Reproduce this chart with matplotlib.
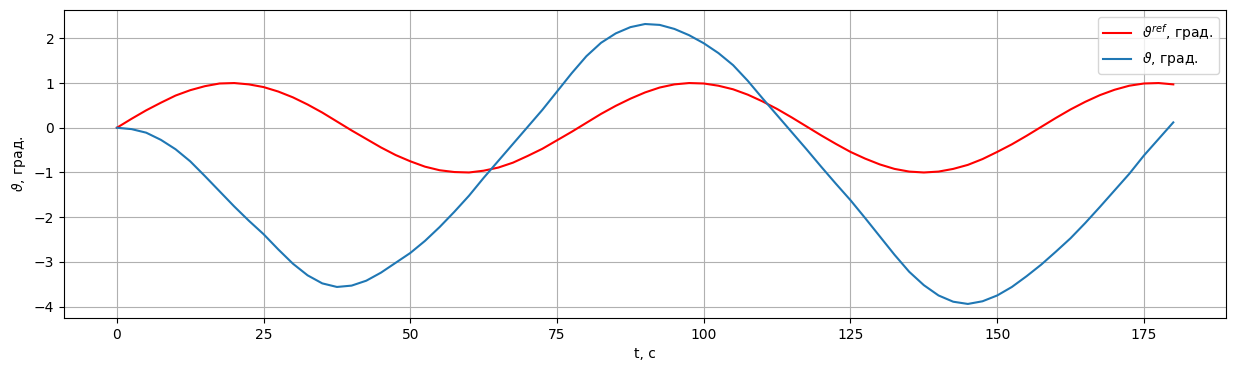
import numpy as np
import matplotlib
matplotlib.use('Agg')
import matplotlib.pyplot as plt

# time, s (step 2.5)
t = np.arange(0, 180.01, 2.5)

# reference pitch angle, deg
theta_ref = [0.00, 0.20, 0.39, 0.56, 0.72, 0.84, 0.93, 0.99, 1.00, 0.97,
             0.91, 0.81, 0.68, 0.52, 0.34, 0.14, -0.06, -0.25, -0.44, -0.61,
             -0.75, -0.87, -0.95, -0.99, -1.00, -0.96, -0.89, -0.78, -0.63, -0.47,
             -0.28, -0.09, 0.11, 0.31, 0.49, 0.65, 0.79, 0.90, 0.97, 1.00,
             0.99, 0.94, 0.86, 0.74, 0.59, 0.42, 0.23, 0.03, -0.17, -0.36,
             -0.54, -0.69, -0.82, -0.92, -0.98, -1.00, -0.98, -0.92, -0.83, -0.70,
             -0.54, -0.37, -0.18, 0.02, 0.22, 0.41, 0.58, 0.73, 0.85, 0.94,
             0.99, 1.00, 0.97]

# actual pitch angle, deg
theta = [0.00, -0.03, -0.11, -0.27, -0.48, -0.75, -1.08, -1.42, -1.76, -2.08,
         -2.38, -2.72, -3.04, -3.30, -3.48, -3.56, -3.53, -3.42, -3.24, -3.02,
         -2.80, -2.53, -2.22, -1.88, -1.52, -1.12, -0.74, -0.36, 0.02, 0.40,
         0.81, 1.22, 1.60, 1.90, 2.11, 2.25, 2.32, 2.30, 2.21, 2.07,
         1.89, 1.67, 1.40, 1.05, 0.66, 0.28, -0.10, -0.48, -0.87, -1.25,
         -1.62, -2.02, -2.43, -2.84, -3.22, -3.52, -3.75, -3.89, -3.94, -3.88,
         -3.75, -3.56, -3.32, -3.06, -2.77, -2.47, -2.13, -1.77, -1.40, -1.03,
         -0.62, -0.25, 0.12]

fig, ax = plt.subplots(figsize=(12.36, 3.71), dpi=100)
ax.plot(t, theta_ref, color='red', label=r'$\vartheta^{ref}$, град.')
ax.plot(t, theta, label=r'$\vartheta$, град.')
ax.set_xlabel('t, c')
ax.set_ylabel(r'$\vartheta$, град.')
ax.legend(loc='upper right')
ax.grid(True)
fig.subplots_adjust(left=0.0518, right=0.992, top=0.973, bottom=0.143)
fig.savefig('out.png')
